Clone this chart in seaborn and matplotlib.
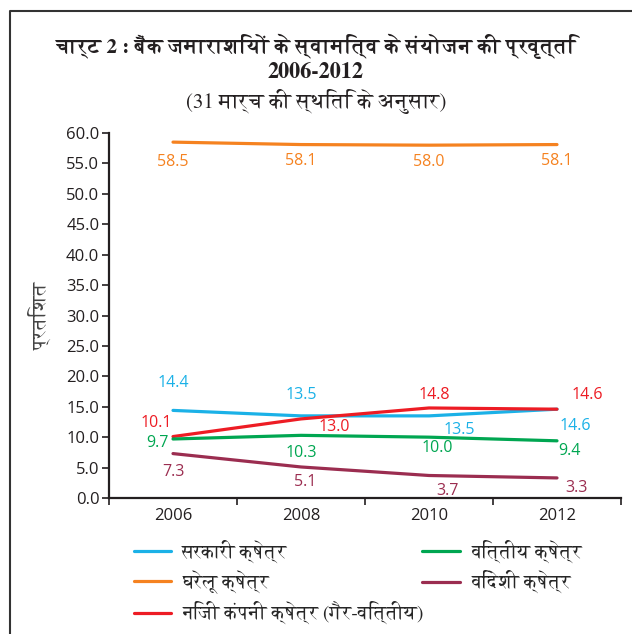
import matplotlib
matplotlib.use("Agg")
import matplotlib.pyplot as plt
import pandas as pd
import seaborn as sns
from matplotlib.lines import Line2D

years = ["2006", "2008", "2010", "2012"]
series_names = [
    "सरकारी क्षेत्र",
    "घरेलू क्षेत्र",
    "निजी कंपनी क्षेत्र (गैर-वित्तीय)",
    "वित्तीय क्षेत्र",
    "विदेशी क्षेत्र",
]
govt = [14.4, 13.5, 13.5, 14.6]
household = [58.5, 58.1, 58.0, 58.1]
private_corp = [10.1, 13.0, 14.8, 14.6]
financial = [9.7, 10.3, 10.0, 9.4]
foreign = [7.3, 5.1, 3.7, 3.3]

colors = ["#1BB1E7", "#F58220", "#ED1C24", "#00A651", "#9B2D50"]

# label offsets (points) per series, per year
label_offsets = [
    [(0, 20), (0, 15), (22, -10), (13, -12)],
    [(0, -14), (0, -12), (0, -12), (0, -12)],
    [(-12, 10), (24, -6), (4, 9), (22, 10)],
    [(-11, -3), (0, -13), (6, -8), (9, -7)],
    [(0, -13), (3, -11), (13, -11), (14, -7)],
]

sns.set_style("ticks")
num_fams = ["Open Sans", "DejaVu Sans"]
deva_fams = ["FreeSerif", "DejaVu Sans"]
plt.rcParams["font.family"] = num_fams

all_vals = [govt, household, private_corp, financial, foreign]
df = pd.DataFrame({
    "x": list(range(len(years))) * len(series_names),
    "value": [v for vals in all_vals for v in vals],
    "series": [n for n in series_names for _ in years],
})

fig = plt.figure(figsize=(6.32, 6.34), dpi=100)
ax = fig.add_axes([109 / 632, 1 - 498 / 634, 512 / 632, 365 / 634])

sns.lineplot(data=df, x="x", y="value", hue="series", hue_order=series_names,
             palette=colors, linewidth=2.3, legend=False, ax=ax)

for vals, col, offs in zip(all_vals, colors, label_offsets):
    for i, (v, off) in enumerate(zip(vals, offs)):
        ax.annotate(f"{v:.1f}", (i, v), xytext=off, textcoords="offset points",
                    ha="center", va="center", color=col, fontsize=11.5)

ax.set_xlim(-0.5, 3.5)
ax.set_ylim(0, 60)
ax.set_yticks(range(0, 61, 5))
ax.set_yticklabels([f"{t:.1f}" for t in range(0, 61, 5)], fontsize=12, color="#231F20")
ax.set_xticks([-0.5, 0.5, 1.5, 2.5, 3.5])
ax.set_xticklabels([])
ax.set_xticks(range(len(years)), minor=True)
ax.set_xticklabels(years, minor=True, fontsize=12, color="#231F20")
ax.tick_params(axis="x", which="minor", length=0, pad=7)
ax.tick_params(axis="both", which="major", length=5, width=1.2, color="#231F20")
ax.tick_params(axis="y", pad=2)
ax.set_xlabel("")
ax.set_ylabel("प्रतिशत", fontsize=14, color="#444444", labelpad=10, family=deva_fams)
for s in ["left", "bottom"]:
    ax.spines[s].set_linewidth(1.6)
    ax.spines[s].set_color("#231F20")
sns.despine(ax=ax)

fig.text(0.5, 1 - 46 / 634, "चार्ट 2 : बैंक जमाराशियों के स्वामित्व के संयोजन की प्रवृत्ति",
         ha="center", va="center", fontsize=15, fontweight="bold", family=deva_fams, color="#231F20")
fig.text(0.5, 1 - 73 / 634, "2006-2012", ha="center", va="center", fontsize=16,
         fontweight="bold", family=deva_fams, color="#231F20")
fig.text(0.5, 1 - 102 / 634, "(31 मार्च की स्थिति के अनुसार)", ha="center", va="center",
         fontsize=15, family=deva_fams, color="#231F20")

handles = [Line2D([], [], color=c, lw=2.3) for c in colors]
leg_kw = dict(loc="upper left", frameon=False, prop={"family": deva_fams, "size": 13.5},
              handlelength=2.0, handletextpad=0.6, labelspacing=0.4, borderaxespad=0)
leg1 = fig.legend(handles[:3], series_names[:3], bbox_to_anchor=(126 / 632, 1 - 532 / 634), **leg_kw)
fig.legend(handles[3:], series_names[3:], bbox_to_anchor=(415 / 632, 1 - 532 / 634), **leg_kw)

fig.add_artist(Line2D([10 / 632, 10 / 632, 1], [0, 1 - 11 / 634, 1 - 11 / 634],
                      transform=fig.transFigure, color="#333333", lw=1.5))

fig.savefig("out.png", dpi=100)
